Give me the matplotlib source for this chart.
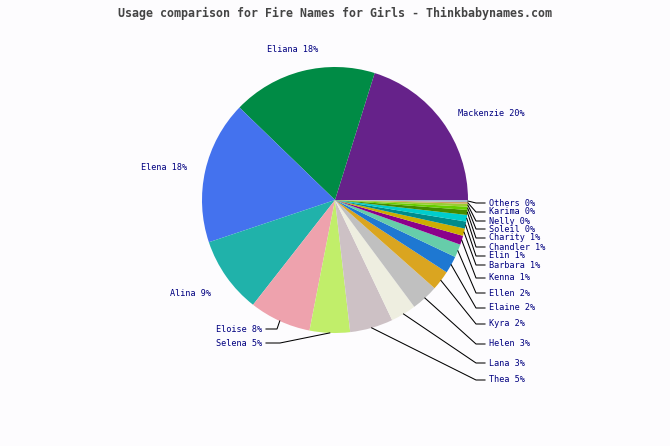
import numpy as np
import matplotlib
matplotlib.use("Agg")
import matplotlib.pyplot as plt

# slice shares (percent of total)
names = ['Mackenzie', 'Eliana', 'Elena', 'Alina', 'Eloise', 'Selena', 'Thea',
         'Lana', 'Helen', 'Kyra', 'Elaine', 'Ellen', 'Kenna', 'Barbara', 'Elin',
         'Chandler', 'Charity', 'Soleil', 'Nelly', 'Karima', 'Others']
shares = [20.2, 17.6, 17.4, 9.3, 7.5, 4.9, 5.25, 3.1, 3.3, 2.4, 2.1, 1.6, 1.1,
          0.9, 0.85, 0.8, 0.6, 0.4, 0.35, 0.2, 0.25]
pct_labels = [20, 18, 18, 9, 8, 5, 5, 3, 3, 2, 2, 2, 1, 1, 1, 1, 1, 0, 0, 0, 0]

colors = ['#66228a', '#008b45', '#4472ee', '#20b2aa', '#eea2ad', '#c1ee6a',
          '#cdc1c5', '#eeeee0', '#c0c0c0', '#daa520', '#1e78d2', '#66cdaa',
          '#8b008b', '#cdad00', '#008b8b', '#00cdcd', '#458b00', '#66cd00',
          '#9acd32', '#d2a060', '#a2b5cd']

# label layout: (text x, text y, ha, elbow x) in pixel coords, None = no leader
label_pos = [
    (458, 113, 'left', None),
    (293, 50, 'center', None),
    (187, 168, 'right', None),
    (211, 293, 'right', None),
    (262, 329, 'right', 277),
    (262, 343, 'right', 280),
]
right_y = [380, 363, 344, 324, 308, 293, 278, 265, 256, 247, 238, 229, 221, 212, 203]
for y in right_y:
    label_pos.append((489, y, 'left', 476))

W, H = 670, 446
cx, cy, r = 335, 200, 133
navy = '#000080'
mono = 'DejaVu Sans Mono'

fig = plt.figure(figsize=(W / 100, H / 100), dpi=100, facecolor='#fdfcfe')
ax = fig.add_axes([0, 0, 1, 1])
ax.set_xlim(0, W)
ax.set_ylim(H, 0)
ax.set_aspect('equal')
ax.axis('off')

# y axis is inverted, so clockwise in data is counter-clockwise on screen
ax.pie(shares, colors=colors, center=(cx, cy), radius=r, startangle=0,
       counterclock=False, wedgeprops=dict(linewidth=0))
ax.set_xlim(0, W)
ax.set_ylim(H, 0)

total = float(sum(shares))
cum = np.cumsum([0] + shares) / total
for i, name in enumerate(names):
    tx, ty, ha, ex = label_pos[i]
    text = f"{name} {pct_labels[i]}%"
    ax.text(tx, ty, text, ha=ha, va='center', fontsize=6.1, color=navy,
            family=mono)
    if ex is None:
        continue
    a = -2 * np.pi * (cum[i] + cum[i + 1]) / 2
    px, py = cx + r * np.cos(a), cy + r * np.sin(a)
    if ha == 'left':
        end = tx - 4
    else:
        end = tx + 4
    ax.plot([px, ex, end], [py, ty, ty], color='black', lw=0.75,
            solid_joinstyle='miter')

ax.text(W / 2, 13, 'Usage comparison for Fire Names for Girls - Thinkbabynames.com',
        ha='center', va='center', fontsize=8.4, fontweight='bold',
        color='#444444', family=mono)

fig.savefig('out.png', dpi=100, facecolor=fig.get_facecolor())
